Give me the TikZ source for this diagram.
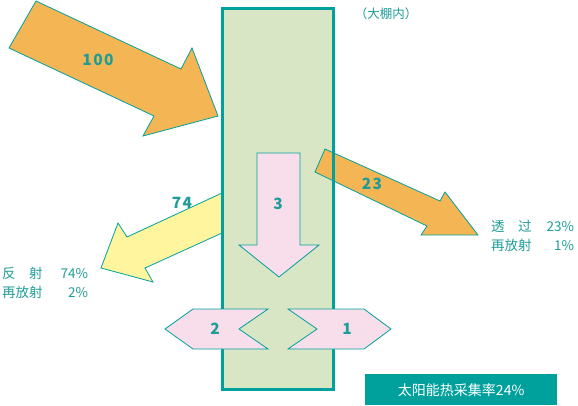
\documentclass[tikz,border=0pt]{standalone}
\usepackage{fontspec}
\setmainfont{Noto Sans CJK SC}
\newfontfamily\numfont[LetterSpace=9]{Noto Sans CJK SC}
\definecolor{sunorange}{HTML}{F4B654}
\definecolor{reflyellow}{HTML}{FEF59E}
\definecolor{heatpink}{HTML}{F8DEEA}
\definecolor{housegreen}{HTML}{D9E6C5}
\definecolor{tealline}{HTML}{00A09D}
\definecolor{tealtext}{HTML}{1E9C98}
\begin{document}
\begin{tikzpicture}[x=1pt,y=-1pt,
        flow/.style={draw=tealline,line width=0.8pt,line join=miter},
        num/.style={font=\fontsize{15.5}{15.5}\selectfont\numfont\bfseries,text=tealtext,inner sep=0pt},
        note/.style={font=\fontsize{13.5}{19}\selectfont,text=tealtext,inner sep=0pt}]
      \useasboundingbox (0,0) rectangle (578,405);
      % greenhouse body
      \fill[housegreen] (222.5,8.5) rectangle (333.5,389.5);
      % incoming and outgoing radiation
      \draw[flow,fill=sunorange] (36,1) -- (181,69) -- (192,48) -- (218,116)
           -- (143,136) -- (154,116) -- (9,48) -- cycle;
      \draw[flow,fill=reflyellow] (222,193) -- (127,237) -- (118,223) -- (101,268)
           -- (153,282) -- (145,268) -- (222,233);
      \draw[flow,fill=sunorange] (325,149) -- (440,201) -- (445,192) -- (478,235)
           -- (421,235) -- (427,226) -- (315,172) -- cycle;
      \draw[tealline,line width=3pt] (222.5,8.5) rectangle (333.5,389.5);
      % heat inside
      \draw[flow,fill=heatpink] (257,153) -- (300,153) -- (300,245) -- (319,245)
           -- (279,277) -- (239,245) -- (257,245) -- cycle;
      \draw[flow,fill=heatpink] (165,329) -- (193,309) -- (268,309) -- (239,329)
           -- (268,349) -- (193,349) -- cycle;
      \draw[flow,fill=heatpink] (288,309) -- (364,309) -- (391,329) -- (364,349)
           -- (288,349) -- (317,329) -- cycle;
      % values
      \node[num] (in)    at (98,60)   {100};
      \node[num] (refl)  at (182,203) {74};
      \node[num] (down)  at (278,204) {3};
      \node[num] (trans) at (372,184) {23};
      \node[num] (left)  at (215,329) {2};
      \node[num] (right) at (347,329) {1};
      % notes
      \node[font=\fontsize{12.5}{12.5}\selectfont,text=tealtext,inner sep=0pt] (inside) at (386,14) {（大棚内）};
      \node[note,anchor=west] (transnote) at (491,237.5)
           {\begin{tabular}{@{}l@{\hspace{15pt}}r@{}}透　过 & 23\% \\ 再放射 & 1\% \end{tabular}};
      \node[note,anchor=west] (reflnote) at (2,284.5)
           {\begin{tabular}{@{}l@{\hspace{18pt}}r@{}}反　射 & 74\% \\ 再放射 & 2\% \end{tabular}};
      \node[fill=tealline,text=white,font=\fontsize{14}{14}\selectfont,
            minimum width=192pt,minimum height=31pt,inner sep=0pt,anchor=north west]
           (rate) at (365,374) {太阳能热采集率24\%};
\end{tikzpicture}
\end{document}
